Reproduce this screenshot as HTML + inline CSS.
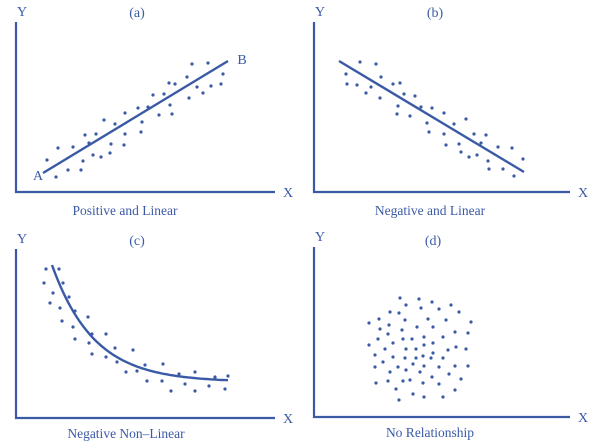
<!DOCTYPE html>
<html><head><meta charset="utf-8"><style>
html,body{margin:0;padding:0;background:#fff;}
svg{display:block;font-family:"Liberation Serif",serif;}
text{fill:#3a5aa6;}
</style></head><body>
<svg id="chart" width="600" height="445" viewBox="0 0 600 445">
<g id="axes" stroke="#3a5aa6" stroke-width="2.2" fill="none"></g>
<g id="lines" stroke="#3a5aa6" stroke-width="2.4" fill="none"></g>
<g id="dots" fill="#3a5aa6"></g>
<g id="labels" font-size="14"></g>
</svg>
<script>
const panelNames = ['a','b','c','d'];
const panelTitles = ['Positive and Linear','Negative and Linear','Negative Non\u2013Linear','No Relationship'];
const dotsA = [[192,64],[208,63],[187,77],[223,74],[169,83],[175,84],[197,87],[211,86],[221,84],[203,93],[153,95],[164,94],[189,98],[138,108],[148,107],[170,105],[125,113],[159,115],[172,114],[104,120],[115,124],[142,122],[85,135],[96,134],[125,134],[141,132],[89,143],[111,144],[124,145],[58,148],[73,147],[93,155],[101,157],[110,153],[47,160],[83,161],[68,170],[81,170],[56,177]];
const dotsB = [[360,62],[376,64],[346,74],[381,77],[347,84],[357,85],[371,87],[393,84],[400,83],[366,93],[404,94],[415,96],[380,98],[398,106],[421,107],[432,108],[397,114],[410,116],[444,113],[427,123],[454,124],[466,119],[429,132],[444,134],[474,134],[486,135],[481,143],[446,145],[459,144],[498,147],[512,148],[461,152],[469,157],[477,155],[488,161],[523,159],[489,169],[503,169],[514,176]];
const dotsC = [[46,269],[59,269],[44,283],[63,283],[53,293],[69,297],[50,303],[60,308],[75,311],[88,317],[62,321],[73,327],[92,334],[106,334],[75,339],[89,343],[115,348],[133,350],[92,354],[106,357],[117,362],[145,365],[163,364],[126,372],[137,371],[179,374],[195,372],[215,377],[228,376],[147,381],[162,381],[185,384],[209,386],[171,391],[195,391],[225,389]];
const dotsD = [[400,298],[406,305],[419,299],[432,302],[451,305],[421,308],[439,309],[459,312],[390,312],[399,313],[379,319],[369,323],[405,320],[428,319],[446,320],[471,322],[389,325],[380,329],[402,330],[417,327],[433,327],[455,332],[468,333],[388,334],[378,339],[403,339],[412,339],[424,337],[443,337],[369,345],[393,343],[406,349],[416,349],[424,345],[433,343],[456,347],[466,349],[448,350],[385,349],[375,355],[393,357],[405,358],[416,358],[423,356],[431,358],[433,353],[443,358],[383,362],[398,367],[413,364],[424,366],[439,367],[455,366],[468,366],[375,367],[390,372],[406,370],[420,372],[449,374],[432,377],[461,379],[376,383],[388,381],[403,381],[410,380],[423,383],[439,384],[396,389],[455,390],[413,394],[424,397],[443,397],[399,400]];
const NS='http://www.w3.org/2000/svg';
function mk(tag, parent, attrs){const e=document.createElementNS(NS,tag);for(const k in attrs)e.setAttribute(k,attrs[k]);parent.appendChild(e);return e;}
const axesG=document.getElementById('axes'), linesG=document.getElementById('lines'), dotsG=document.getElementById('dots'), labG=document.getElementById('labels');
// panel geometry: [yAxisX, top, xAxisY, right]
const geo=[[16,22,192,275],[314,22,192,570],[16,249,418,275],[314,247,417,570]];
const titlePos=[[137,17],[435,17],[137,245],[433,245]];
const subPos=[[125,215],[430,215],[126,438],[430,437]];
geo.forEach((g,i)=>{
  const p=mk('path',axesG,{d:`M${g[0]} ${g[1]} V${g[2]} H${g[3]}`});
  
  
  const y=mk('text',labG,{x:g[0]+6,y:g[1]-6,'text-anchor':'middle'});y.textContent='Y';
  
  
  const x=mk('text',labG,{x:g[3]+13,y:g[2]+5,'text-anchor':'middle'});x.textContent='X';
  
  
  const t=mk('text',labG,{x:titlePos[i][0],y:titlePos[i][1],'text-anchor':'middle'});t.textContent='('+panelNames[i]+')';
  
  
  const s=mk('text',labG,{x:subPos[i][0],y:subPos[i][1],'text-anchor':'middle','font-size':'13.5'});s.textContent=panelTitles[i];
  
  
});
const la=mk('text',labG,{x:38,y:180,'text-anchor':'middle'});la.textContent='A';


const lb=mk('text',labG,{x:242,y:64,'text-anchor':'middle'});lb.textContent='B';


const l1=mk('line',linesG,{x1:43,y1:173,x2:228,y2:61});


const l2=mk('line',linesG,{x1:339,y1:61,x2:524,y2:172});


let d='';
for(let x=52;x<=228;x+=2){const y=382-117*Math.exp(-(x-52)/42);d+=(x===52?'M':'L')+x+' '+y.toFixed(1)+' ';}
const cv=mk('path',linesG,{d:d});


[dotsA,dotsB,dotsC,dotsD].forEach((arr,i)=>{
  arr.forEach(pt=>{
    const c=mk('circle',dotsG,{cx:pt[0],cy:pt[1],r:1.6});
    
    
  });
});
</script>
</body></html>
